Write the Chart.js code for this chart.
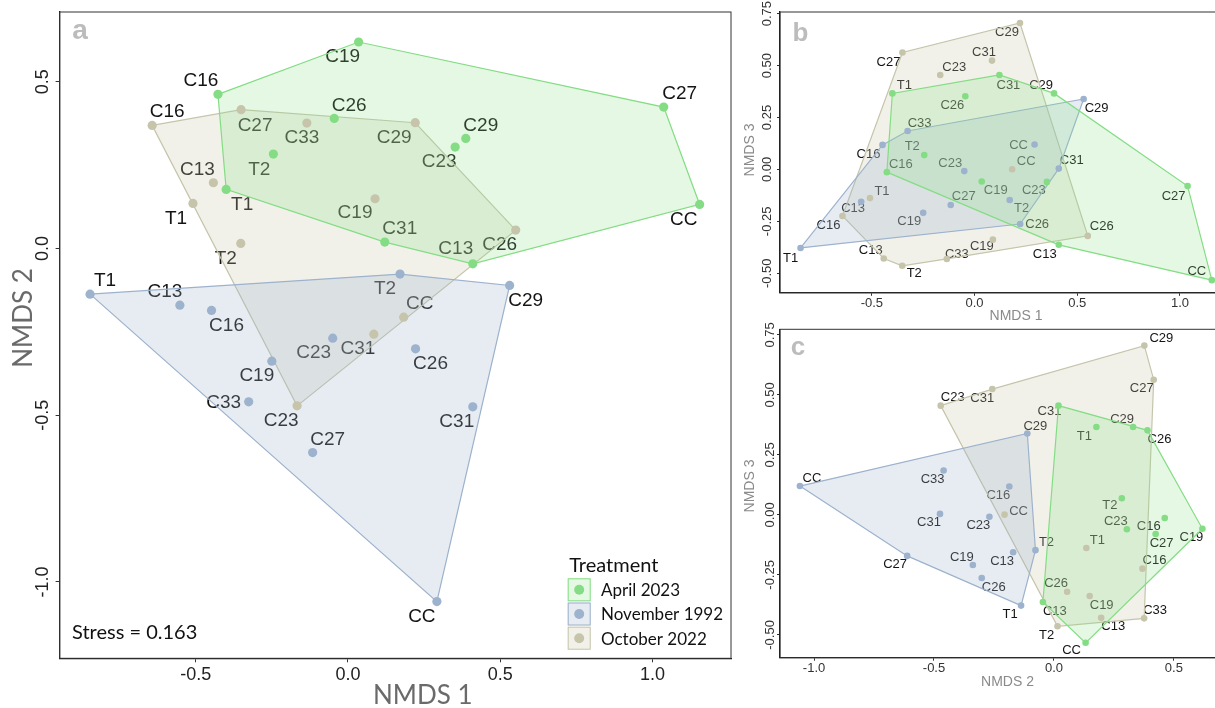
<!DOCTYPE html>
<html>
<head>
<meta charset="utf-8">
<title>NMDS ordination</title>
<script src="https://cdn.jsdelivr.net/npm/chart.js@4.4.0/dist/chart.umd.min.js"></script>
<style>
  html, body { margin: 0; padding: 0; background: #fff; overflow: hidden; }
  body { width: 1215px; height: 708px; position: relative; }
  canvas { position: absolute; }
  #chartA { left: 0; top: 0; }
  #chartB { left: 730px; top: 0; }
  #chartC { left: 730px; top: 320px; }
</style>
</head>
<body>
<canvas id="chartA" width="736" height="708"></canvas>
<canvas id="chartB" width="510" height="320"></canvas>
<canvas id="chartC" width="500" height="388"></canvas>
<script>
// NMDS scores (a: 1 vs 2, b: 1 vs 3, c: 2 vs 3)
const treatments = ['April 2023', 'November 1992', 'October 2022'];

const aprilSites = ['T1', 'T2', 'C13', 'C16', 'C19', 'C23', 'C26', 'C27', 'C29', 'C31', 'CC'];
const aprilNmds1 = [-0.400, -0.245, 0.410, -0.427, 0.035, 0.352, -0.045, 1.037, 0.387, 0.121, 1.155];
const aprilNmds2 = [0.177, 0.283, -0.046, 0.462, 0.619, 0.304, 0.390, 0.424, 0.330, 0.019, 0.132];
const aprilNmds3 = [0.366, 0.069, -0.363, -0.013, -0.058, -0.060, 0.352, -0.080, 0.366, 0.455, -0.533];

const novSites = ['T1', 'T2', 'C13', 'C16', 'C19', 'C23', 'C26', 'C27', 'C29', 'C31', 'C33', 'CC'];
const novNmds1 = [-0.847, 0.171, -0.552, -0.448, -0.250, -0.050, 0.222, -0.116, 0.531, 0.410, -0.326, 0.292];
const novNmds2 = [-0.137, -0.077, -0.170, -0.186, -0.338, -0.269, -0.301, -0.612, -0.111, -0.475, -0.460, -1.059];
const novNmds3 = [-0.378, -0.147, -0.156, 0.118, -0.209, -0.008, -0.263, -0.171, 0.339, 0.004, 0.185, 0.120];

const octSites = ['T1', 'T2', 'C13', 'C16', 'C19', 'C23', 'C26', 'C27', 'C29', 'C31', 'C33', 'CC'];
const octNmds1 = [-0.509, -0.352, -0.442, -0.643, 0.089, -0.167, 0.551, -0.351, 0.221, 0.085, -0.135, 0.183];
const octNmds2 = [0.135, 0.015, 0.197, 0.369, 0.149, -0.472, 0.055, 0.416, 0.377, -0.257, 0.376, -0.206];
const octNmds3 = [-0.138, -0.464, -0.429, -0.224, -0.338, 0.455, -0.320, 0.563, 0.705, 0.524, -0.431, 0.001];

const stressLabel = 'Stress = 0.163';

const ticksNmds1 = [-0.5, 0, 0.5, 1.0];
const ticksNmds2 = [-1.0, -0.5, 0, 0.5];
const ticksNmds3 = [-0.5, -0.25, 0, 0.25, 0.5, 0.75];

// colours per treatment
const pointColors = ['#84dd84', '#9db2cd', '#c6c5ab'];
const fillColors = ['rgba(132,221,132,0.22)', 'rgba(157,178,205,0.25)', 'rgba(199,198,173,0.25)'];

// label nudges in px (dx, dy), same order as the site lists; mimics the repelled labels
const nudgeA = [
  [[16, 15], [-14, 16], [-17, -15], [-17, -14], [-16, 15], [-16, 15], [15, -13], [16, -13], [15, -13], [15, -13], [-16, 15]],
  [[15, -13], [-15, 15], [-15, -13], [15, 15], [-15, 15], [-19, 15], [15, 15], [15, -13], [16, 15], [-16, 15], [-25, 1], [-15, 15]],
  [[-17, 15], [-15, 15], [-16, -13], [15, -14], [-20, 14], [-16, 15], [-16, 15], [14, 16], [-21, 15], [-16, 15], [-5, 15], [16, -13]]
];
const nudgeB = [
  [[12, -8], [-12, -9], [-14, 10], [14, -8], [14, 9], [-13, 9], [-13, 9], [-14, 10], [-13, -8], [9, 10], [-15, -9]],
  [[-10, 10], [12, 8], [-8, 7], [-14, 9], [-14, 9], [-14, -8], [17, 0], [13, -9], [13, 9], [13, -8], [12, -8], [-16, 1]],
  [[12, -7], [12, 8], [-13, -8], [-14, 9], [-11, 7], [14, -8], [14, -9], [-14, 10], [-13, 9], [-8, -8], [10, -5], [14, -8]]
];
const nudgeC = [
  [[-12, 9], [-12, 7], [12, 9], [-16, 8], [-11, 9], [-11, -8], [12, 9], [6, 9], [-11, -8], [-9, 6], [-14, 8]],
  [[-11, 9], [11, -8], [-11, 9], [-11, 9], [-11, -8], [-11, 9], [12, 9], [-12, 9], [8, -7], [-11, 9], [-11, 9], [12, -8]],
  [[11, -8], [-11, 9], [12, 9], [12, -8], [12, 9], [12, -8], [-11, -8], [-12, 9], [17, -7], [-10, 9], [11, -8], [14, -3]]
];

const groups = [
  { sites: aprilSites, nmds1: aprilNmds1, nmds2: aprilNmds2, nmds3: aprilNmds3 },
  { sites: novSites, nmds1: novNmds1, nmds2: novNmds2, nmds3: novNmds3 },
  { sites: octSites, nmds1: octNmds1, nmds2: octNmds2, nmds3: octNmds3 }
];

const ARIAL = '"Liberation Sans", Arial, sans-serif';
const CALIBRI = 'Lato, "Open Sans", sans-serif';
Chart.defaults.font.family = ARIAL;

// monotone chain hull, as chull() would give
function convexHull(points) {
  const p = points.slice().sort((a, b) => a.x - b.x || a.y - b.y);
  const cross = (o, a, b) => (a.x - o.x) * (b.y - o.y) - (a.y - o.y) * (b.x - o.x);
  const lower = [], upper = [];
  for (const q of p) {
    while (lower.length > 1 && cross(lower[lower.length - 2], lower[lower.length - 1], q) <= 0) lower.pop();
    lower.push(q);
  }
  for (let i = p.length - 1; i >= 0; i--) {
    const q = p[i];
    while (upper.length > 1 && cross(upper[upper.length - 2], upper[upper.length - 1], q) <= 0) upper.pop();
    upper.push(q);
  }
  lower.pop();
  upper.pop();
  return lower.concat(upper);
}

function text(ctx, str, x, y, font, color, rotate, align) {
  ctx.save();
  ctx.font = font;
  ctx.fillStyle = color;
  ctx.textAlign = align || 'center';
  ctx.textBaseline = 'middle';
  ctx.translate(x, y);
  if (rotate) ctx.rotate(-Math.PI / 2);
  ctx.fillText(str, 0, 0);
  ctx.restore();
}

function buildChart(p) {
  const canvas = document.getElementById(p.canvas);
  const W = canvas.width, H = canvas.height;

  const datasets = [];
  groups.forEach((g, gi) => {
    const pts = g.sites.map((s, i) => ({ x: g[p.x][i], y: g[p.y][i] }));
    const hull = convexHull(pts);
    hull.push(hull[0]);
    datasets.push({
      type: 'line', label: treatments[gi] + ' hull', data: hull, order: 2,
      borderColor: pointColors[gi], borderWidth: 1.2, backgroundColor: fillColors[gi],
      fill: 'shape', pointRadius: 0, tension: 0
    });
    datasets.push({
      type: 'scatter', label: treatments[gi], data: pts, order: 1,
      backgroundColor: pointColors[gi], borderWidth: 0, pointRadius: p.pointRadius
    });
  });

  const decor = {
    id: 'decor',
    beforeDatasetsDraw(chart) {
      // site labels go under the translucent hulls, like in the original
      const ctx = chart.ctx, xs = chart.scales.x, ys = chart.scales.y;
      groups.forEach((g, gi) => g.sites.forEach((s, i) => {
        const [dx, dy] = p.nudge[gi][i];
        text(ctx, s, xs.getPixelForValue(g[p.x][i]) + dx, ys.getPixelForValue(g[p.y][i]) + dy, p.labelFont, '#141414');
      }));
    },
    afterDraw(chart) {
      const ctx = chart.ctx, a = chart.chartArea, ys = chart.scales.y;
      ctx.save();
      ctx.strokeStyle = '#333';
      ctx.lineWidth = 1;
      ctx.strokeRect(a.left, a.top, a.right - a.left, a.bottom - a.top);
      ctx.restore();

      ys.ticks.forEach(t => {
        text(ctx, t.label, p.yLabelX, ys.getPixelForValue(t.value), p.tickFont, p.tickColor, true);
      });

      text(ctx, p.xTitle.text, p.xTitle.x, p.xTitle.y, p.titleFont, p.titleColor);
      text(ctx, p.yTitle.text, p.yTitle.x, p.yTitle.y, p.titleFont, p.titleColor, true);
      text(ctx, p.letter.text, p.letter.x, p.letter.y, p.letter.font, '#bcbcbc');

      if (p.stress) text(ctx, stressLabel, p.stress.x, p.stress.y, '20px ' + CALIBRI, '#111', false, 'left');

      if (p.legend) {
        const L = p.legend;
        text(ctx, 'Treatment', L.x + 1.5, L.titleY, '20px ' + CALIBRI, '#111', false, 'left');
        treatments.forEach((t, i) => {
          const top = L.top + i * L.step;
          ctx.save();
          ctx.fillStyle = fillColors[i];
          ctx.fillRect(L.x, top, L.size, L.size);
          ctx.strokeStyle = pointColors[i];
          ctx.lineWidth = 1;
          ctx.strokeRect(L.x + 0.5, top + 0.5, L.size - 1, L.size - 1);
          ctx.beginPath();
          ctx.arc(L.x + L.size / 2, top + L.size / 2, 5, 0, Math.PI * 2);
          ctx.fillStyle = pointColors[i];
          ctx.fill();
          ctx.restore();
          text(ctx, t, L.textX, top + L.size / 2 + 1, '17px ' + CALIBRI, '#111', false, 'left');
        });
      }
    }
  };

  return new Chart(canvas, {
    type: 'scatter',
    data: { datasets },
    options: {
      responsive: false,
      animation: false,
      events: [],
      layout: { padding: { left: 0, top: p.area.top, right: W - p.area.right, bottom: 0 } },
      plugins: { legend: { display: false }, tooltip: { enabled: false } },
      scales: {
        x: {
          type: 'linear', min: p.xRange[0], max: p.xRange[1],
          afterBuildTicks: s => { s.ticks = p.xTicks.map(v => ({ value: v })); },
          afterFit: s => { s.height = H - p.area.bottom; },
          grid: { drawOnChartArea: false, drawTicks: true, tickLength: p.tickLen, color: '#333' },
          border: { display: true, color: '#111', width: 1.3 },
          ticks: {
            font: { size: p.tickSize }, color: p.tickColor, padding: p.xTickPad,
            maxRotation: 0, autoSkip: false, callback: v => v.toFixed(1)
          }
        },
        y: {
          type: 'linear', min: p.yRange[0], max: p.yRange[1],
          afterBuildTicks: s => { s.ticks = p.yTicks.map(v => ({ value: v })); },
          afterFit: s => { s.width = p.area.left; },
          grid: { drawOnChartArea: false, drawTicks: true, tickLength: p.tickLen, color: '#333' },
          border: { display: true, color: '#111', width: 1.3 },
          ticks: { display: false, callback: v => v.toFixed(p.yDigits) }
        }
      }
    },
    plugins: [decor]
  });
}

buildChart({
  canvas: 'chartA', x: 'nmds1', y: 'nmds2',
  xRange: [-0.947, 1.258], yRange: [-1.229, 0.709],
  xTicks: ticksNmds1, yTicks: ticksNmds2, yDigits: 1,
  area: { left: 59.6, top: 12, right: 731, bottom: 658.3 },
  pointRadius: 4.6, nudge: nudgeA, labelFont: '19px ' + ARIAL,
  tickLen: 4, tickSize: 18, tickFont: '18px ' + ARIAL, tickColor: '#222', xTickPad: 2, yLabelX: 43.3,
  titleFont: '26px ' + CALIBRI, titleColor: '#6a6a6a',
  xTitle: { text: 'NMDS 1', x: 422.7, y: 695.5 },
  yTitle: { text: 'NMDS 2', x: 23.3, y: 318 },
  letter: { text: 'a', x: 80, y: 31, font: 'bold 28px ' + ARIAL },
  stress: { x: 72, y: 633 },
  legend: { x: 567.7, titleY: 566, top: 578.3, step: 24.2, size: 23, textX: 601 }
});

buildChart({
  canvas: 'chartB', x: 'nmds1', y: 'nmds3',
  xRange: [-0.947, 1.258], yRange: [-0.594, 0.758],
  xTicks: ticksNmds1, yTicks: ticksNmds3, yDigits: 2,
  area: { left: 50, top: 12, right: 503, bottom: 292.8 },
  pointRadius: 3.3, nudge: nudgeB, labelFont: '13px ' + ARIAL,
  tickLen: 3, tickSize: 13, tickFont: '13px ' + ARIAL, tickColor: '#333', xTickPad: 0, yLabelX: 37.5,
  titleFont: '14px ' + ARIAL, titleColor: '#8a8a8a',
  xTitle: { text: 'NMDS 1', x: 286, y: 316.5 },
  yTitle: { text: 'NMDS 3', x: 20, y: 150 },
  letter: { text: 'b', x: 70.5, y: 34, font: 'bold 26px ' + ARIAL }
});

buildChart({
  canvas: 'chartC', x: 'nmds2', y: 'nmds3',
  xRange: [-1.142, 0.709], yRange: [-0.595, 0.773],
  xTicks: ticksNmds2, yTicks: ticksNmds3, yDigits: 2,
  area: { left: 50, top: 9.3, right: 494, bottom: 337.7 },
  pointRadius: 3.3, nudge: nudgeC, labelFont: '13px ' + ARIAL,
  tickLen: 3, tickSize: 13, tickFont: '13px ' + ARIAL, tickColor: '#333', xTickPad: 0, yLabelX: 40,
  titleFont: '14px ' + ARIAL, titleColor: '#8a8a8a',
  xTitle: { text: 'NMDS 2', x: 277.5, y: 361.7 },
  yTitle: { text: 'NMDS 3', x: 20, y: 166 },
  letter: { text: 'c', x: 68, y: 28.3, font: 'bold 26px ' + ARIAL }
});
</script>
</body>
</html>
